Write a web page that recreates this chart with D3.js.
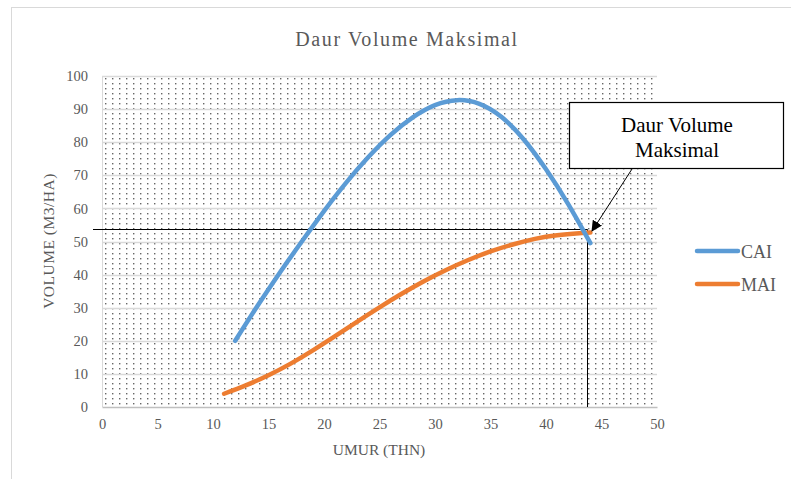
<!DOCTYPE html>
<html>
<head>
<meta charset="utf-8">
<script src="https://cdn.jsdelivr.net/npm/d3@7"></script>
<style>
  body { margin: 0; background: #fff; }
  text { font-family: "Liberation Serif", "Times New Roman", serif; }
</style>
</head>
<body>
<div id="chart"></div>
<script>
// ages (years) and volumes (m3/ha)
var caiAge   = [12, 14, 16, 18, 20, 22, 24, 26, 28, 30, 32, 34, 36, 38, 40, 42, 44];
var caiValue = [20, 30.5, 40.5, 50, 59.2, 67.8, 75.5, 82.2, 87.5, 91.2, 92.7, 91.6, 87.6, 80.8, 71.8, 61.3, 49.5];

var maiAge   = [11, 13, 15, 17, 19, 21, 23, 25, 27, 29, 31, 33, 35, 37, 39, 41, 43, 44];
var maiValue = [4, 6.6, 9.6, 13.1, 17.1, 21.4, 25.8, 30.1, 34.2, 38, 41.4, 44.4, 47, 49.1, 50.8, 51.9, 52.5, 52.7];

var xTicks = [0, 5, 10, 15, 20, 25, 30, 35, 40, 45, 50];
var yTicks = [0, 10, 20, 30, 40, 50, 60, 70, 80, 90, 100];

// the point marked as "Daur Volume Maksimal"
var cutAge    = 43.7;
var cutVolume = 53.8;

var width  = 791,
    height = 479;

var x = d3.scaleLinear().domain([0, 50]).range([102, 657]);
var y = d3.scaleLinear().domain([0, 100]).range([407, 76]);

var svg = d3.select("#chart")
            .append("svg")
            .attr("width", width)
            .attr("height", height);

// outer frame of the chart
svg.append("rect")
   .attr("x", 11.5).attr("y", 7.5)
   .attr("width", 800).attr("height", 500)
   .attr("fill", "none")
   .attr("stroke", "#d9d9d9");

// dotted fill of the plot area
var defs = svg.append("defs");
var pat  = defs.append("pattern")
               .attr("id", "dots")
               .attr("patternUnits", "userSpaceOnUse")
               .attr("x", 105).attr("y", 78)
               .attr("width", 7).attr("height", 5);
pat.append("rect").attr("width", 1.4).attr("height", 1.4).attr("fill", "#666");

svg.append("rect")
   .attr("x", x(0)).attr("y", y(100))
   .attr("width", x(50) - x(0)).attr("height", y(0) - y(100))
   .attr("fill", "url(#dots)");

// horizontal gridlines
svg.selectAll(".grid")
   .data(yTicks.slice(1))
   .enter()
   .append("line")
   .attr("class", "grid")
   .attr("x1", x(0)).attr("x2", x(50))
   .attr("y1", function(d) { return Math.round(y(d)) + 0.5; })
   .attr("y2", function(d) { return Math.round(y(d)) + 0.5; })
   .attr("stroke", "#d9d9d9")
   .attr("stroke-width", 1.5);

svg.append("line")
   .attr("x1", x(0) + 0.5).attr("x2", x(0) + 0.5)
   .attr("y1", y(100)).attr("y2", y(0))
   .attr("stroke", "#d9d9d9");

// axes
var xAxis = d3.axisBottom(x).tickValues(xTicks).tickSize(0).tickPadding(12);
var yAxis = d3.axisLeft(y).tickValues(yTicks).tickSize(0).tickPadding(14);

var gx = svg.append("g").attr("transform", "translate(0," + y(0) + ")").call(xAxis);
var gy = svg.append("g").attr("transform", "translate(" + x(0) + ",0)").call(yAxis);

gx.select(".domain").attr("stroke", "#bfbfbf").attr("stroke-width", 1.5);
gy.select(".domain").remove();

svg.selectAll(".tick text")
   .attr("font-family", "Liberation Serif, serif")
   .attr("font-size", 14.5)
   .attr("fill", "#595959");

// reference lines to the marked point (snapped to pixels so they stay crisp)
var cutX = Math.round(x(cutAge)) + 0.5,
    cutY = Math.round(y(cutVolume)) + 0.5;

svg.append("line")
   .attr("x1", 93).attr("x2", cutX)
   .attr("y1", cutY).attr("y2", cutY)
   .attr("stroke", "#000").attr("stroke-width", 1);

svg.append("line")
   .attr("x1", cutX).attr("x2", cutX)
   .attr("y1", cutY).attr("y2", y(0))
   .attr("stroke", "#000").attr("stroke-width", 1);

// series
var line = d3.line()
             .x(function(d) { return x(d[0]); })
             .y(function(d) { return y(d[1]); })
             .curve(d3.curveNatural);

svg.append("path")
   .datum(d3.zip(maiAge, maiValue))
   .attr("d", line)
   .attr("fill", "none")
   .attr("stroke", "#ed7d31")
   .attr("stroke-width", 4.5)
   .attr("stroke-linecap", "round");

svg.append("path")
   .datum(d3.zip(caiAge, caiValue))
   .attr("d", line)
   .attr("fill", "none")
   .attr("stroke", "#5b9bd5")
   .attr("stroke-width", 4.5)
   .attr("stroke-linecap", "round");

// callout
defs.append("marker")
    .attr("id", "arrow")
    .attr("viewBox", "0 0 10 10")
    .attr("refX", 9).attr("refY", 5)
    .attr("markerWidth", 11).attr("markerHeight", 11)
    .attr("markerUnits", "userSpaceOnUse")
    .attr("orient", "auto")
    .append("path")
    .attr("d", "M0,0 L10,5 L0,10 Z")
    .attr("fill", "#000");

svg.append("line")
   .attr("x1", 632).attr("y1", 169)
   .attr("x2", x(cutAge) + 5).attr("y2", y(cutVolume) + 2)
   .attr("stroke", "#000")
   .attr("stroke-width", 1)
   .attr("marker-end", "url(#arrow)");

svg.append("rect")
   .attr("x", 569.5).attr("y", 102.5)
   .attr("width", 214).attr("height", 66)
   .attr("fill", "#fff")
   .attr("stroke", "#000")
   .attr("stroke-width", 1.2);

svg.append("text")
   .attr("x", 677).attr("y", 132)
   .attr("text-anchor", "middle")
   .attr("font-size", 21)
   .attr("fill", "#000")
   .text("Daur Volume");

svg.append("text")
   .attr("x", 677).attr("y", 157)
   .attr("text-anchor", "middle")
   .attr("font-size", 21)
   .attr("fill", "#000")
   .text("Maksimal");

// titles
svg.append("text")
   .attr("x", 407).attr("y", 46)
   .attr("text-anchor", "middle")
   .attr("font-size", 20)
   .attr("letter-spacing", 1.6)
   .attr("fill", "#595959")
   .text("Daur Volume Maksimal");

svg.append("text")
   .attr("x", 379).attr("y", 455)
   .attr("text-anchor", "middle")
   .attr("font-size", 15.5)
   .attr("fill", "#595959")
   .text("UMUR (THN)");

svg.append("text")
   .attr("transform", "translate(54,241) rotate(-90)")
   .attr("text-anchor", "middle")
   .attr("font-size", 15.5)
   .attr("letter-spacing", 0.5)
   .attr("fill", "#595959")
   .text("VOLUME (M3/HA)");

// legend
var legend = [
  { name: "CAI", color: "#5b9bd5", y: 251 },
  { name: "MAI", color: "#ed7d31", y: 284 }
];

var lg = svg.selectAll(".legend")
            .data(legend)
            .enter()
            .append("g")
            .attr("class", "legend");

lg.append("line")
  .attr("x1", 697).attr("x2", 738)
  .attr("y1", function(d) { return d.y; })
  .attr("y2", function(d) { return d.y; })
  .attr("stroke", function(d) { return d.color; })
  .attr("stroke-width", 4.5)
  .attr("stroke-linecap", "round");

lg.append("text")
  .attr("x", 741)
  .attr("y", function(d) { return d.y + 6.5; })
  .attr("font-size", 18)
  .attr("fill", "#595959")
  .text(function(d) { return d.name; });
</script>
</body>
</html>
